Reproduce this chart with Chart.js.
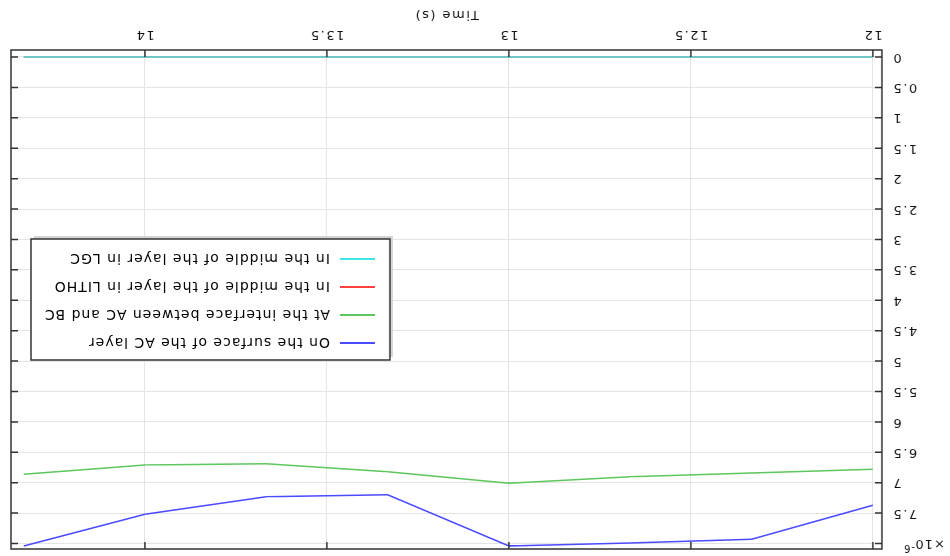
<!DOCTYPE html>
<html>
<head>
<meta charset="utf-8">
<script src="https://cdn.jsdelivr.net/npm/chart.js@4/dist/chart.umd.min.js"></script>
<style>
  html, body { margin: 0; padding: 0; background: #fff; }
  #wrap { width: 950px; height: 556px; transform: rotate(180deg); }
</style>
</head>
<body>
<div id="wrap"><canvas id="tempChart" width="950" height="556"></canvas></div>
<script>
// time steps (s)
var times = [12, 12.333, 12.667, 13, 13.333, 13.667, 14, 14.333];
// values in units of 1e-6
var surfaceAC = [7.37, 7.93, 7.99, 8.04, 7.20, 7.23, 7.52, 8.04];
var interfaceACBC = [6.78, 6.84, 6.90, 7.01, 6.82, 6.69, 6.71, 6.86];
var middleLITHO = [0, 0, 0, 0, 0, 0, 0, 0];
var middleLGC = [0, 0, 0, 0, 0, 0, 0, 0];

var seriesLabels = ['On the surface of the AC layer', 'At the interface between AC and BC',
    'In the middle of the layer in LITHO', 'In the middle of the layer in LGC'];
var seriesColors = ['#4a4aff', '#5cc75c', '#ff4040', '#40e6e6'];
var seriesValues = [surfaceAC, interfaceACBC, middleLITHO, middleLGC];

var xTitle = 'Time (s)';
var tickFont = { family: 'DejaVu Sans', size: 13 };

function points(vals) {
    return vals.map(function (v, i) { return { x: times[i], y: v }; });
}

var datasets = seriesValues.map(function (vals, i) {
    return {
        label: seriesLabels[i],
        data: points(vals),
        borderColor: seriesColors[i],
        backgroundColor: seriesColors[i],
        borderWidth: 1.5,
        pointRadius: 0,
        tension: 0,
        order: i == 3 ? 0 : 1
    };
});

// wider letter spacing, like the original plot
var spacingPlugin = {
    id: 'spacing',
    beforeUpdate: function (chart) { chart.ctx.letterSpacing = '1.5px'; },
    beforeDraw: function (chart) { chart.ctx.letterSpacing = '1.5px'; }
};

// frame with inward ticks, exponent and legend box
var framePlugin = {
    id: 'frame',
    afterDatasetsDraw: function (chart) {
        var ctx = chart.ctx, a = chart.chartArea;
        var xs = chart.scales.x, ys = chart.scales.y;
        ctx.save();
        ctx.strokeStyle = '#333';
        ctx.lineWidth = 1.5;
        ctx.beginPath();
        xs.ticks.forEach(function (t) {
            var px = xs.getPixelForValue(t.value);
            ctx.moveTo(px, a.bottom); ctx.lineTo(px, a.bottom - 7);
            ctx.moveTo(px, a.top); ctx.lineTo(px, a.top + 7);
        });
        ys.ticks.forEach(function (t) {
            var py = ys.getPixelForValue(t.value);
            ctx.moveTo(a.left, py); ctx.lineTo(a.left + 7, py);
            ctx.moveTo(a.right, py); ctx.lineTo(a.right - 7, py);
        });
        ctx.stroke();
        ctx.strokeRect(a.left, a.top, a.right - a.left, a.bottom - a.top);

        // exponent of the y axis
        ctx.fillStyle = '#111';
        ctx.textBaseline = 'middle';
        ctx.textAlign = 'left';
        ctx.font = '13px "DejaVu Sans"';
        ctx.letterSpacing = '1px';
        ctx.fillText('\u00d710', 5, 13);
        ctx.font = '10px "DejaVu Sans"';
        ctx.fillText('-6', 35, 8);

        // legend
        var w = 359, h = 121;
        var bx = a.right - 20 - w, by = (a.top + a.bottom) / 2 - h / 2;
        ctx.fillStyle = '#d4d4d4';
        ctx.fillRect(bx - 3, by + 3, w, h);
        ctx.fillStyle = '#fff';
        ctx.fillRect(bx, by, w, h);
        ctx.strokeStyle = '#333';
        ctx.lineWidth = 1.5;
        ctx.strokeRect(bx, by, w, h);
        ctx.font = '14px "DejaVu Sans"';
        ctx.letterSpacing = '1px';
        chart.data.datasets.forEach(function (ds, i) {
            var ly = by + 17 + i * 28;
            ctx.strokeStyle = ds.borderColor;
            ctx.lineWidth = 2;
            ctx.beginPath();
            ctx.moveTo(bx + 15, ly); ctx.lineTo(bx + 50, ly);
            ctx.stroke();
            ctx.fillStyle = '#000';
            ctx.fillText(ds.label, bx + 60, ly + 1);
        });
        ctx.restore();
    }
};

var ctx = document.getElementById('tempChart').getContext('2d');
var chart = new Chart(ctx, {
    type: 'line',
    data: { datasets: datasets },
    options: {
        responsive: false,
        animation: false,
        layout: { padding: { top: 7, right: 11, left: 0, bottom: 0 } },
        plugins: { legend: { display: false }, tooltip: { enabled: false } },
        scales: {
            x: {
                type: 'linear',
                min: 11.975,
                max: 14.368,
                grid: { color: '#e4e4e4', drawTicks: false },
                border: { display: false },
                ticks: {
                    stepSize: 0.5,
                    includeBounds: false,
                    padding: 8,
                    color: '#111',
                    font: tickFont,
                    maxRotation: 0,
                    callback: function (v) { return String(v); }
                },
                title: { display: true, text: xTitle, color: '#111', font: tickFont, padding: { top: 0, bottom: 7 } },
                afterFit: function (s) { s.height = 50; s.paddingLeft = 0; s.paddingRight = 0; }
            },
            y: {
                min: -0.115,
                max: 8.09,
                grid: { color: '#e4e4e4', drawTicks: false },
                border: { display: false },
                ticks: {
                    stepSize: 0.5,
                    includeBounds: false,
                    padding: 10,
                    color: '#111',
                    font: tickFont,
                    callback: function (v) { return v >= 8 ? '' : String(v); }
                },
                afterFit: function (s) { s.width = 68; s.paddingTop = 0; s.paddingBottom = 0; }
            }
        }
    },
    plugins: [spacingPlugin, framePlugin]
});
</script>
</body>
</html>
